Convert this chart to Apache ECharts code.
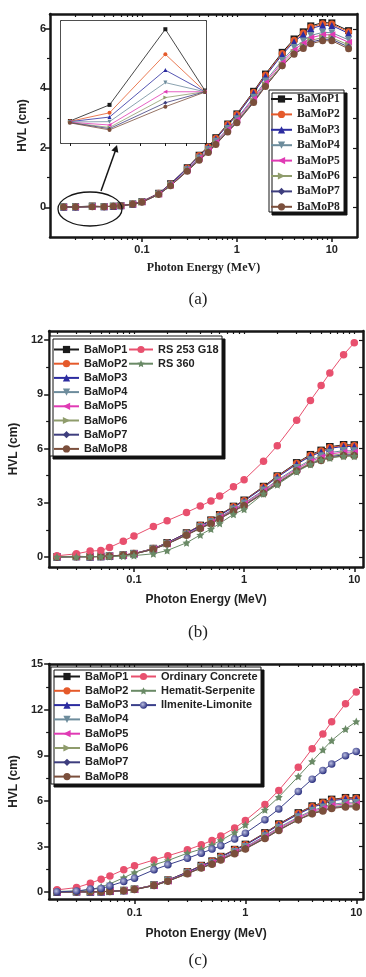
<!DOCTYPE html>
<html>
<head>
<meta charset="UTF-8">
<title>HVL</title>
<script src="https://cdn.jsdelivr.net/npm/echarts@6/dist/echarts.min.js"></script>
<style>
  html, body { margin: 0; padding: 0; background: #fff; }
  #main { width: 366px; height: 977px; }
</style>
</head>
<body>
<div id="main"></div>
<script>
// photon energy (MeV)
var energy = [0.015, 0.02, 0.03, 0.04, 0.05, 0.06, 0.08, 0.1, 0.15, 0.2, 0.3, 0.4, 0.5, 0.6, 0.8,
              1, 1.5, 2, 3, 4, 5, 6, 8, 10, 15];
// (b) and (c) use 0.02 - 10 MeV
var energyShort = energy.slice(1, 24);

var glassNames = ['BaMoP1', 'BaMoP2', 'BaMoP3', 'BaMoP4', 'BaMoP5', 'BaMoP6', 'BaMoP7', 'BaMoP8'];

// HVL (cm) of the glasses
var bamop1 = [0.0112, 0.0165, 0.0413, 0.0212, 0.035, 0.056, 0.11, 0.19, 0.47, 0.79, 1.33, 1.75, 2.04, 2.34, 2.80, 3.14, 3.90, 4.48, 5.21, 5.66, 5.90, 6.10, 6.21, 6.20, 5.94];
var bamop2 = [0.0111, 0.0139, 0.0331, 0.0209, 0.034, 0.055, 0.11, 0.19, 0.47, 0.78, 1.32, 1.74, 2.03, 2.32, 2.78, 3.12, 3.87, 4.45, 5.17, 5.62, 5.86, 6.06, 6.17, 6.16, 5.90];
var bamop3 = [0.0110, 0.0125, 0.0279, 0.0208, 0.034, 0.055, 0.11, 0.19, 0.46, 0.78, 1.31, 1.72, 2.01, 2.30, 2.76, 3.09, 3.84, 4.41, 5.13, 5.57, 5.81, 6.01, 6.12, 6.11, 5.85];
var bamop4 = [0.0109, 0.0110, 0.0238, 0.0208, 0.033, 0.053, 0.10, 0.18, 0.45, 0.75, 1.26, 1.66, 1.94, 2.22, 2.65, 2.98, 3.70, 4.25, 4.94, 5.37, 5.59, 5.78, 5.88, 5.87, 5.63];
var bamop5 = [0.0108, 0.0099, 0.0208, 0.0208, 0.033, 0.052, 0.10, 0.18, 0.44, 0.74, 1.25, 1.64, 1.91, 2.19, 2.62, 2.94, 3.65, 4.19, 4.87, 5.29, 5.52, 5.70, 5.80, 5.80, 5.55];
var bamop6 = [0.0107, 0.0091, 0.0189, 0.0208, 0.032, 0.051, 0.10, 0.17, 0.43, 0.73, 1.23, 1.61, 1.88, 2.16, 2.58, 2.89, 3.59, 4.13, 4.80, 5.21, 5.43, 5.61, 5.71, 5.70, 5.46];
var bamop7 = [0.0107, 0.0087, 0.0172, 0.0208, 0.032, 0.051, 0.10, 0.17, 0.43, 0.72, 1.22, 1.60, 1.86, 2.13, 2.55, 2.86, 3.55, 4.08, 4.75, 5.16, 5.37, 5.55, 5.65, 5.65, 5.39];
var bamop8 = [0.0106, 0.0083, 0.0159, 0.0207, 0.031, 0.050, 0.10, 0.17, 0.43, 0.72, 1.21, 1.58, 1.84, 2.11, 2.53, 2.84, 3.52, 4.06, 4.76, 5.15, 5.34, 5.50, 5.60, 5.60, 5.33];
var glassHVL = [bamop1, bamop2, bamop3, bamop4, bamop5, bamop6, bamop7, bamop8];

// reference materials, 0.02 - 10 MeV
var rs253 = [0.07, 0.18, 0.33, 0.36, 0.53, 0.88, 1.17, 1.69, 2.01, 2.47, 2.82, 3.10, 3.37, 3.89, 4.27, 5.30, 6.16, 7.56, 8.66, 9.48, 10.18, 11.19, 11.85];
var rs360 = [0.01, 0.01, 0.02, 0.02, 0.03, 0.05, 0.08, 0.18, 0.36, 0.79, 1.22, 1.55, 1.86, 2.36, 2.64, 3.50, 4.00, 4.72, 5.12, 5.36, 5.48, 5.58, 5.58];
var concrete = [0.15, 0.30, 0.59, 0.85, 1.07, 1.47, 1.73, 2.12, 2.39, 2.78, 3.11, 3.40, 3.70, 4.21, 4.71, 5.77, 6.69, 8.22, 9.43, 10.39, 11.20, 12.39, 13.16];
var hematite = [0.05, 0.08, 0.15, 0.35, 0.55, 0.95, 1.29, 1.80, 2.08, 2.56, 2.83, 3.11, 3.40, 3.92, 4.43, 5.41, 6.25, 7.61, 8.60, 9.36, 9.97, 10.72, 11.22];
var ilmenite = [0.02, 0.07, 0.20, 0.24, 0.41, 0.70, 0.92, 1.47, 1.80, 2.23, 2.56, 2.83, 3.05, 3.49, 3.88, 4.76, 5.46, 6.62, 7.43, 8.00, 8.42, 8.97, 9.25];

// tick values
var xMajor = [0.1, 1, 10];
var xMinor = [0.02, 0.03, 0.04, 0.05, 0.06, 0.07, 0.08, 0.09, 0.2, 0.3, 0.4, 0.5, 0.6, 0.7, 0.8, 0.9, 2, 3, 4, 5, 6, 7, 8, 9];
var yTicksA = [0, 2, 4, 6], yMinorA = [1, 3, 5];
var yTicksB = [0, 3, 6, 9, 12], yMinorB = [1.5, 4.5, 7.5, 10.5];
var yTicksC = [0, 3, 6, 9, 12, 15], yMinorC = [1.5, 4.5, 7.5, 10.5, 13.5];
var insetXTicks = [0.015, 0.02, 0.025, 0.03, 0.035, 0.04];
var insetYTicks = [0.01, 0.015, 0.02, 0.025, 0.03, 0.035, 0.04];

// ---------- styles ----------
var INK = '#161616';
var SANS = 'Liberation Sans', SERIF = 'Liberation Serif';
var glassStyle = [
    {color: '#1b1b1b', symbol: 'rect', rotate: 0},
    {color: '#e55a2b', symbol: 'circle', rotate: 0},
    {color: '#2c2ca0', symbol: 'triangle', rotate: 0},
    {color: '#6d8c9c', symbol: 'triangle', rotate: 180},
    {color: '#e03ab4', symbol: 'triangle', rotate: 90},
    {color: '#8f9c6c', symbol: 'triangle', rotate: -90},
    {color: '#3e3e7e', symbol: 'diamond', rotate: 0},
    {color: '#7b4f3c', symbol: 'circle', rotate: 0}
];
var pinkStyle = {color: '#e8506e', symbol: 'circle', rotate: 0};
var starStyle = {color: '#6a8a66', symbol: 'path://M0,-10L2.9,-4L9.5,-3.1L4.8,1.5L5.9,8.1L0,5L-5.9,8.1L-4.8,1.5L-9.5,-3.1L-2.9,-4Z', rotate: 0};
var ballStyle = {
    color: {type: 'radial', x: 0.4, y: 0.4, r: 0.6, colorStops: [{offset: 0, color: '#b9bde0'}, {offset: 1, color: '#2c3180'}]},
    line: '#3a3f8a', symbol: 'circle', rotate: 0
};

var xAxes = [], yAxes = [];

function fmtE(v) { return String(+Number(v).toPrecision(3)); }

function axisBase(type, gi, range, pos, extra) {
    return Object.assign({
        type: type, gridIndex: gi, min: range[0], max: range[1], position: pos,
        axisLine: {show: false, onZero: false},
        axisTick: {show: false}, axisLabel: {show: false},
        splitLine: {show: false}, minorTick: {show: false}, minorSplitLine: {show: false}
    }, type === 'log' ? {logBase: 10} : {}, extra);
}

// four-sided frame with ticks, like the origin plots
function addFrame(gi, xr, yr, yTicks, yMinor, o) {
    var line = {show: true, onZero: false, lineStyle: {color: INK, width: 2.5}};
    var lbl = {show: true, fontSize: 11, fontWeight: 'bold', fontFamily: SANS, color: '#222'};
    var nameFont = {fontSize: 12, fontWeight: 'bold', fontFamily: SANS, color: '#222'};
    var xi = xAxes.length, yi = yAxes.length;
    xAxes.push(axisBase('log', gi, xr, 'bottom', {
        axisLine: line,
        axisTick: {show: true, length: 5, customValues: xMajor, lineStyle: {color: INK, width: 1.5}},
        axisLabel: Object.assign({customValues: xMajor, formatter: fmtE, margin: o.xMargin}, lbl),
        name: 'Photon Energy (MeV)', nameLocation: 'middle', nameGap: o.xNameGap,
        nameTextStyle: Object.assign({}, nameFont, {fontFamily: o.xNameFamily || SANS})
    }));
    xAxes.push(axisBase('log', gi, xr, 'bottom', {
        axisTick: {show: true, length: 3, customValues: xMinor, lineStyle: {color: INK, width: 1.2}}
    }));
    xAxes.push(axisBase('log', gi, xr, 'top', {
        axisLine: line,
        axisTick: {show: true, inside: true, length: 3, customValues: xMajor.concat(xMinor), lineStyle: {color: INK, width: 1.2}}
    }));
    yAxes.push(axisBase('value', gi, yr, 'left', {
        axisLine: line,
        axisTick: {show: true, length: 5, customValues: yTicks, lineStyle: {color: INK, width: 1.5}},
        axisLabel: Object.assign({customValues: yTicks, margin: o.yMargin}, lbl),
        name: 'HVL (cm)', nameLocation: 'middle', nameGap: o.yNameGap, nameTextStyle: nameFont
    }));
    yAxes.push(axisBase('value', gi, yr, 'left', {
        axisTick: {show: true, length: 3, customValues: yMinor, lineStyle: {color: INK, width: 1.2}}
    }));
    yAxes.push(axisBase('value', gi, yr, 'right', {
        axisLine: line,
        axisTick: {show: true, inside: true, length: 4, customValues: yTicks.concat(yMinor), lineStyle: {color: INK, width: 1.2}}
    }));
    return {x: xi, y: yi};
}

function lineSeries(name, st, xs, ys, ax, size, lw) {
    return {
        type: 'line', name: name, xAxisIndex: ax.x, yAxisIndex: ax.y,
        data: xs.map(function (e, k) { return [e, ys[k]]; }),
        symbol: st.symbol, symbolSize: size, symbolRotate: st.rotate,
        itemStyle: {color: st.color, borderWidth: 0},
        lineStyle: {color: st.line || st.color, width: lw},
        animation: false
    };
}

var grids = [
    {left: 50, top: 14, width: 307, height: 223},   // (a)
    {left: 61, top: 21, width: 145, height: 122},   // (a) inset
    {left: 41, top: 331, width: 322, height: 236},  // (b)
    {left: 43, top: 664, width: 320, height: 235}   // (c)
];

var axA = addFrame(0, [0.01076, 18.4], [-1, 6.5], yTicksA, yMinorA,
    {xMargin: 7, xNameGap: 25, xNameFamily: SERIF, yMargin: 4, yNameGap: 17});

// inset axes
var axIn = {x: xAxes.length, y: yAxes.length};
var thin = {show: true, onZero: false, lineStyle: {color: INK, width: 1.5}};
xAxes.push(axisBase('log', 1, [0.01406, 0.0403], 'bottom', {
    axisLine: thin, axisTick: {show: true, length: 3, customValues: insetXTicks, lineStyle: {color: INK}}
}));
xAxes.push(axisBase('log', 1, [0.01406, 0.0403], 'top', {
    axisLine: thin, axisTick: {show: true, inside: true, length: 3, customValues: insetXTicks, lineStyle: {color: INK}}
}));
yAxes.push(axisBase('value', 1, [0.004, 0.044], 'left', {
    axisLine: thin, axisTick: {show: true, inside: true, length: 3, customValues: insetYTicks, lineStyle: {color: INK}}
}));
yAxes.push(axisBase('value', 1, [0.004, 0.044], 'right', {
    axisLine: thin, axisTick: {show: true, inside: true, length: 3, customValues: insetYTicks, lineStyle: {color: INK}}
}));

var axB = addFrame(2, [0.01698, 12.0], [-0.55, 12.5], yTicksB, yMinorB,
    {xMargin: 7, xNameGap: 27, yMargin: 6, yNameGap: 25});
var axC = addFrame(3, [0.01698, 11.5], [-0.45, 15], yTicksC, yMinorC,
    {xMargin: 8, xNameGap: 29, yMargin: 6, yNameGap: 27});

var series = [];
glassHVL.forEach(function (v, i) {
    series.push(lineSeries(glassNames[i], glassStyle[i], energy, v, axA, 7, 1));
});
glassHVL.forEach(function (v, i) {
    series.push(lineSeries(glassNames[i], glassStyle[i], energy.slice(0, 4), v.slice(0, 4), axIn, 4, 0.8));
});
glassHVL.forEach(function (v, i) {
    series.push(lineSeries(glassNames[i], glassStyle[i], energyShort, v.slice(1, 24), axB, 7.5, 1));
});
series.push(lineSeries('RS 253 G18', pinkStyle, energyShort, rs253, axB, 7.5, 1));
series.push(lineSeries('RS 360', starStyle, energyShort, rs360, axB, 8, 1));
glassHVL.forEach(function (v, i) {
    series.push(lineSeries(glassNames[i], glassStyle[i], energyShort, v.slice(1, 24), axC, 7.5, 1));
});
series.push(lineSeries('Ordinary Concrete', pinkStyle, energyShort, concrete, axC, 7.5, 1));
series.push(lineSeries('Hematit-Serpenite', starStyle, energyShort, hematite, axC, 8, 1));
series.push(lineSeries('Ilmenite-Limonite', ballStyle, energyShort, ilmenite, axC, 7.5, 1));

function legendAt(left, top, data, family, size, gap, iw) {
    return {
        orient: 'vertical', left: left, top: top, data: data, padding: 0, z: 6,
        itemWidth: iw, itemHeight: 9, itemGap: gap, selectedMode: false,
        textStyle: {fontFamily: family, fontWeight: 'bold', fontSize: size, color: '#222'}
    };
}

var boxStyle = {fill: '#fff', stroke: INK, lineWidth: 1, shadowColor: '#111', shadowOffsetX: 3, shadowOffsetY: 3, shadowBlur: 0.1};

var option = {
    backgroundColor: '#fff',
    animation: false,
    grid: grids,
    xAxis: xAxes,
    yAxis: yAxes,
    series: series,
    legend: [
        legendAt(270, 93, glassNames, SERIF, 11.5, 3.4, 21),
        legendAt(53, 344, glassNames, SANS, 11, 3.2, 25),
        legendAt(128, 344, ['RS 253 G18', 'RS 360'], SANS, 11, 3.2, 24),
        legendAt(53, 671, glassNames, SANS, 11, 3.3, 26),
        legendAt(130, 671, ['Ordinary Concrete', 'Hematit-Serpenite', 'Ilmenite-Limonite'], SANS, 11, 3.3, 25)
    ],
    graphic: [
        {type: 'rect', z: 3, shape: {x: 269, y: 90, width: 75, height: 122}, style: boxStyle},
        {type: 'rect', z: 3, shape: {x: 50, y: 336, width: 172, height: 120}, style: boxStyle},
        {type: 'rect', z: 3, shape: {x: 51, y: 667, width: 210, height: 117}, style: boxStyle},
        {type: 'rect', z: 1, shape: {x: 61, y: 21, width: 145, height: 122}, style: {fill: '#fff', stroke: 'none'}},
        {type: 'ellipse', z: 7, shape: {cx: 90, cy: 209, rx: 32, ry: 17}, style: {fill: 'none', stroke: INK, lineWidth: 1.3}},
        {type: 'polyline', z: 7, shape: {points: [[101, 191], [116, 149]]}, style: {stroke: INK, lineWidth: 1.5}},
        {type: 'polygon', z: 7, shape: {points: [[117, 145], [118.3, 152.8], [111.4, 150.5]]}, style: {fill: INK}},
        {type: 'text', z: 7, x: 198, y: 300, style: {text: '(a)', fontSize: 17, fontFamily: SERIF, fill: '#222', align: 'center', verticalAlign: 'middle'}},
        {type: 'text', z: 7, x: 198, y: 633, style: {text: '(b)', fontSize: 17, fontFamily: SERIF, fill: '#222', align: 'center', verticalAlign: 'middle'}},
        {type: 'text', z: 7, x: 198, y: 961, style: {text: '(c)', fontSize: 17, fontFamily: SERIF, fill: '#222', align: 'center', verticalAlign: 'middle'}}
    ]
};

var chart = echarts.init(document.getElementById('main'));
chart.setOption(option);
</script>
</body>
</html>
